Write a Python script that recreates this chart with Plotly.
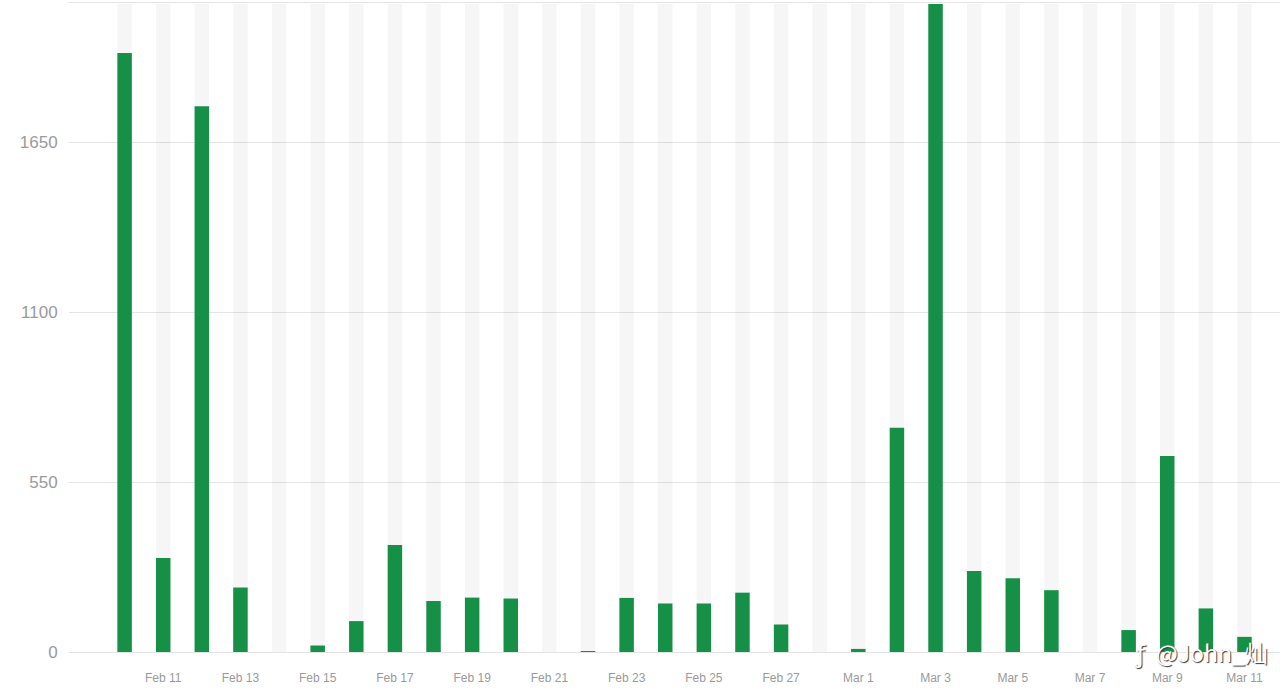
"""Daily green bars over pale day stripes, Feb 10 to Mar 11."""

import plotly.graph_objs as go

DAYS = [
    'Feb 10', 'Feb 11', 'Feb 12', 'Feb 13', 'Feb 14', 'Feb 15', 'Feb 16', 'Feb 17', 'Feb 18', 'Feb 19',
    'Feb 20', 'Feb 21', 'Feb 22', 'Feb 23', 'Feb 24', 'Feb 25', 'Feb 26', 'Feb 27', 'Feb 28', 'Mar 1',
    'Mar 2', 'Mar 3', 'Mar 4', 'Mar 5', 'Mar 6', 'Mar 7', 'Mar 8', 'Mar 9', 'Mar 10', 'Mar 11',
]
VALUES = [
    1938, 304, 1766, 209, 0, 21, 100, 346, 165, 176,
    173, 0, 2, 175, 157, 157, 192, 89, 0, 10,
    726, 2097, 262, 239, 200, 0, 71, 634, 141, 49,
]
STRIPE_VALUES = [2097] * len(DAYS)
X_TICKS = DAYS[1::2]
Y_TICKS = [0, 550, 1100, 1650]

GREEN = '#169047'
GRID = '#e4e4e4'
TICK_COLOR = '#9a9a9a'
FONT = 'Liberation Sans'

fig = go.Figure()
fig.add_trace(go.Bar(
    x=DAYS, y=STRIPE_VALUES, width=0.375,
    marker=dict(color='rgba(0,0,0,0.037)', line_width=0),
    hoverinfo='skip'
))
fig.add_trace(go.Bar(
    x=DAYS, y=VALUES, width=0.375,
    marker=dict(color=GREEN, line_width=0)
))

fig.update_layout(
    barmode='overlay',
    showlegend=False,
    width=1280, height=690,
    margin=dict(l=69, r=0, t=3, b=38),
    plot_bgcolor='white',
    paper_bgcolor='white',
    font=dict(family=FONT, color=TICK_COLOR),
    xaxis=dict(
        type='category',
        categoryorder='array',
        categoryarray=DAYS,
        range=[-1.44, 29.92],
        tickmode='array',
        tickvals=X_TICKS,
        ticktext=X_TICKS,
        tickangle=0,
        tickfont=dict(size=12, color=TICK_COLOR),
        ticks='outside', ticklen=15, tickcolor='rgba(0,0,0,0)',
        showgrid=False,
        showline=True, mirror=True, linecolor=GRID, linewidth=1,
        zeroline=False
    ),
    yaxis=dict(
        range=[0, 2100],
        tickmode='array',
        tickvals=Y_TICKS,
        tickfont=dict(size=17, color=TICK_COLOR),
        ticks='outside', ticklen=7, tickcolor='rgba(0,0,0,0)',
        gridcolor=GRID, gridwidth=1,
        showline=False,
        zeroline=False
    )
)

# watermark in the lower right corner
fig.add_annotation(
    text='@John_灿',
    xref='paper', yref='paper', x=0.944, y=0,
    xanchor='center', yanchor='middle', showarrow=False,
    font=dict(family='Noto Sans CJK SC', size=23, color='white', shadow='1px 1px 1px #333')
)
fig.add_annotation(
    text='ƒ',
    xref='paper', yref='paper', x=0.884, y=0,
    xanchor='center', yanchor='middle', showarrow=False,
    font=dict(family='Noto Sans', size=24, color='white', shadow='1px 1px 1px #333')
)

# page body has a default margin that would push the fixed-size plot off the window
fig.write_html(
    "out.html",
    config=dict(displayModeBar=False),
    post_script="document.body.style.margin = '0';"
)
